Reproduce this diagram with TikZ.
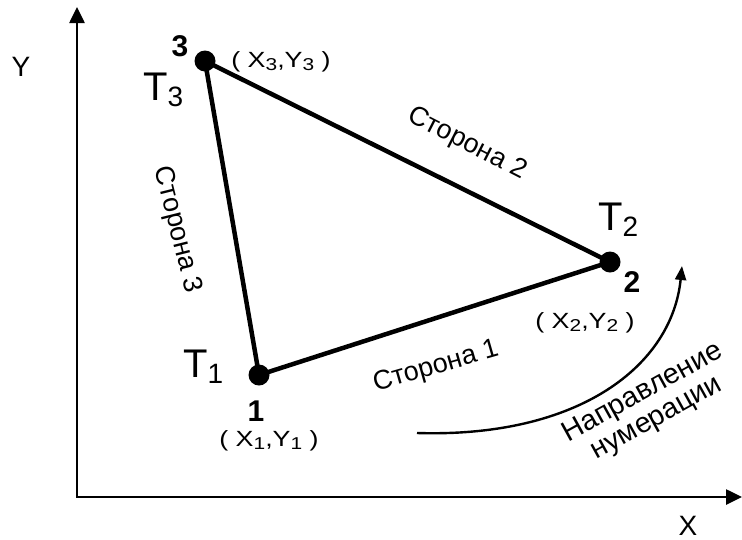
\documentclass[tikz,border=0pt]{standalone}
\usepackage{fontspec}
\setmainfont{Liberation Sans}
\usetikzlibrary{arrows.meta}
\newcommand{\idx}[1]{\raisebox{-0.14em}{\scalebox{0.78}{#1}}}
\newcommand{\tidx}[1]{\raisebox{-0.15em}{\scalebox{0.7}{#1}}}
\begin{document}
\begin{tikzpicture}[x=1pt,y=-1pt,
  vertex/.style={circle,fill=black,minimum size=21pt,inner sep=0pt},
  side/.style={line width=4.5pt,line join=round},
  axis/.style={line width=2.6pt},
  lbl/.style={inner sep=0pt,font=\fontsize{27}{31}\selectfont},
  num/.style={inner sep=0pt,font=\fontsize{30}{34}\selectfont\bfseries},
  coord/.style={inner sep=0pt,font=\fontsize{22}{25}\selectfont},
  tlab/.style={inner sep=0pt,font=\fontsize{40}{44}\selectfont,anchor=base west},
  axlab/.style={inner sep=0pt,font=\fontsize{28}{32}\selectfont}]
\useasboundingbox (0,0) rectangle (742,539);
% axes
\coordinate (o) at (77,497);
\coordinate (ytip) at (77,7);
\coordinate (xtip) at (742,497);
\draw[axis,{Triangle[length=16pt,width=15pt]}-{Triangle[length=16pt,width=15pt]}] (ytip) -- (o) -- (xtip);
\node[axlab] (ylab) at (21,67) {Y};
\node[axlab,anchor=base] (xlab) at (688,535) {X};
% vertices
\node[vertex] (t1) at (259,375) {};
\node[vertex] (t2) at (610,262) {};
\node[vertex] (t3) at (205,61) {};
\draw[side] (t1.center) -- (t2.center) -- (t3.center) -- cycle;
% vertex labels
\node[num] (n3) at (180,46) {3};
\node[num] (n2) at (632,282) {2};
\node[num] (n1) at (256,411) {1};
\node[tlab] (lt3) at (143,100) {T\tidx{3}};
\node[tlab] (lt2) at (598,230) {T\tidx{2}};
\node[tlab] (lt1) at (183,377) {T\tidx{1}};
\node[coord] (c3) at (281,62) {\scalebox{1.22}[1]{( X\idx{3},Y\idx{3} )}};
\node[coord] (c2) at (585,323) {\scalebox{1.22}[1]{( X\idx{2},Y\idx{2} )}};
\node[coord] (c1) at (269,441) {\scalebox{1.22}[1]{( X\idx{1},Y\idx{1} )}};
% side labels
\node[lbl,rotate=-27] (s2) at (467,144) {Сторона 2};
\node[lbl,rotate=-76] (s3) at (177,230) {Сторона 3};
\node[lbl,rotate=16] (s1) at (436,367) {Сторона 1};
% direction arrow
\coordinate (a0) at (417,433);
\coordinate (a1) at (682,266);
\draw[line width=2.4pt,-{Triangle[length=14pt,width=11pt]}] (a0) .. controls (580,438) and (672,365) .. (a1);
\node[lbl,rotate=29,align=center,font=\fontsize{28.5}{31}\selectfont] (dir) at (650,406) {Направление\\[-2pt]нумерации};
\end{tikzpicture}
\end{document}
